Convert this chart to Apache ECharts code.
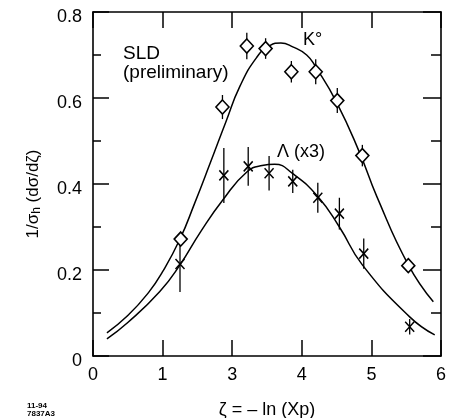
<!DOCTYPE html>
<html>
<head>
<meta charset="utf-8">
<script src="https://cdn.jsdelivr.net/npm/echarts@6/dist/echarts.min.js"></script>
<style>html,body{margin:0;padding:0;background:#fff}#c{width:466px;height:418px}</style>
</head>
<body>
<div id="c"></div>
<script>
// ---- data ----
var xTickLabels = ['0', '1', '3', '4', '5', '6'];
var yTickValues = [0, 0.2, 0.4, 0.6, 0.8];

var k0X   = [1.26, 1.86, 2.21, 2.48, 2.85, 3.20, 3.51, 3.87, 4.53];
var k0Y   = [0.272, 0.579, 0.721, 0.715, 0.661, 0.661, 0.594, 0.466, 0.210];
var k0Err = [0.012, 0.028, 0.031, 0.024, 0.025, 0.029, 0.029, 0.025, 0.010];

var lamX   = [1.25, 1.88, 2.23, 2.53, 2.87, 3.23, 3.54, 3.89, 4.55];
var lamY   = [0.214, 0.420, 0.441, 0.425, 0.406, 0.368, 0.331, 0.238, 0.068];
var lamErr = [0.065, 0.064, 0.045, 0.040, 0.027, 0.035, 0.037, 0.035, 0.018];

var k0CurveX = [0.20, 0.50, 0.80, 1.00, 1.25, 1.46, 1.68, 1.91, 2.11, 2.35, 2.54, 2.70, 2.87, 3.07, 3.20, 3.50, 3.83, 4.08, 4.53, 4.89];
var k0CurveY = [0.054, 0.094, 0.148, 0.196, 0.272, 0.355, 0.447, 0.545, 0.627, 0.694, 0.722, 0.728, 0.719, 0.700, 0.672, 0.590, 0.473, 0.370, 0.212, 0.126];

var lamCurveX = [0.20, 0.50, 0.96, 1.25, 1.55, 1.87, 2.21, 2.43, 2.61, 2.87, 3.23, 3.54, 3.87, 4.55, 4.91];
var lamCurveY = [0.040, 0.078, 0.150, 0.212, 0.290, 0.364, 0.428, 0.443, 0.446, 0.424, 0.371, 0.300, 0.212, 0.091, 0.049];

function pairs(xs, ys) { return xs.map(function (x, i) { return [x, ys[i]]; }); }
function bars(xs, ys, es) { return xs.map(function (x, i) { return [x, ys[i] - es[i], ys[i] + es[i]]; }); }

var FONT = '"Liberation Sans", Arial, Helvetica, sans-serif';
var chart = echarts.init(document.getElementById('c'), null, { renderer: 'canvas' });

function errRender(params, api) {
  var x = api.value(0), lo = api.value(1), hi = api.value(2);
  var p1 = api.coord([x, lo]), p2 = api.coord([x, hi]);
  return { type: 'line', shape: { x1: p1[0], y1: p1[1], x2: p2[0], y2: p2[1] },
           style: { stroke: '#000', lineWidth: 1.3 } };
}

var axisLineStyle = { color: '#000', width: 1.6 };

var option = {
  animation: false,
  backgroundColor: '#fff',
  grid: { left: 93, right: 25, top: 12, bottom: 62, containLabel: false, outerBoundsMode: 'none' },
  xAxis: [{
    type: 'value', min: 0, max: 5, interval: 1, position: 'bottom',
    axisLine: { show: true, onZero: false, lineStyle: axisLineStyle },
    axisTick: { show: true, inside: true, length: 16, lineStyle: { color: '#000', width: 1.5 } },
    axisLabel: { margin: 10, color: '#000', fontFamily: FONT, fontSize: 18,
                 formatter: function (v) { return xTickLabels[Math.round(v)]; } },
    splitLine: { show: false },
    name: 'ζ = – ln (Xp)', nameLocation: 'middle', nameGap: 45,
    nameTextStyle: { color: '#000', fontFamily: FONT, fontSize: 18 }
  }, {
    type: 'value', min: 0, max: 5, interval: 1, position: 'top',
    axisLine: { show: true, onZero: false, lineStyle: axisLineStyle },
    axisTick: { show: true, inside: true, length: 16, lineStyle: { color: '#000', width: 1.5 } },
    axisLabel: { show: false }, splitLine: { show: false }
  }],
  yAxis: [{
    type: 'value', min: 0, max: 0.8, interval: 0.2, position: 'left',
    axisLine: { show: true, onZero: false, lineStyle: axisLineStyle },
    axisTick: { show: true, inside: true, length: 16, lineStyle: { color: '#000', width: 1.5 } },
    minorTick: { show: true, splitNumber: 2, length: 8, lineStyle: { color: '#000', width: 1.5 } },
    axisLabel: { margin: 11, color: '#000', fontFamily: FONT, fontSize: 18, verticalAlign: 'top', lineHeight: 10,
                 formatter: function (v) { var t = yTickValues.indexOf(Math.round(v * 10) / 10); return t === 0 ? '0' : v.toFixed(1); } },
    splitLine: { show: false },
    name: '1/σ{s|h} (dσ/dζ)', nameLocation: 'middle', nameRotate: 90, nameGap: 50,
    nameTextStyle: { color: '#000', fontFamily: FONT, fontSize: 17, padding: [0, 20, 0, 0],
                     rich: { s: { fontFamily: FONT, fontSize: 12, verticalAlign: 'bottom', padding: [8, 0, 0, 0] } } }
  }, {
    type: 'value', min: 0, max: 0.8, interval: 0.2, position: 'right',
    axisLine: { show: true, onZero: false, lineStyle: axisLineStyle },
    axisTick: { show: true, inside: true, length: 18, lineStyle: { color: '#000', width: 1.5 } },
    minorTick: { show: true, splitNumber: 2, length: 10, lineStyle: { color: '#000', width: 1.5 } },
    axisLabel: { show: false }, splitLine: { show: false }
  }],
  series: [
    { type: 'line', data: pairs(k0CurveX, k0CurveY), smooth: 0.5, showSymbol: false, symbol: 'none',
      lineStyle: { color: '#000', width: 1.5 }, z: 2 },
    { type: 'line', data: pairs(lamCurveX, lamCurveY), smooth: 0.5, showSymbol: false, symbol: 'none',
      lineStyle: { color: '#000', width: 1.5 }, z: 2 },
    { type: 'custom', renderItem: errRender, data: bars(k0X, k0Y, k0Err), encode: { x: 0, y: [1, 2] }, z: 3 },
    { type: 'custom', renderItem: errRender, data: bars(lamX, lamY, lamErr), encode: { x: 0, y: [1, 2] }, z: 3 },
    { type: 'scatter', data: pairs(k0X, k0Y), symbol: 'diamond', symbolSize: [13, 14],
      itemStyle: { color: '#fff', borderColor: '#000', borderWidth: 1.6, opacity: 1 }, z: 4 },
    { type: 'scatter', data: pairs(lamX, lamY), symbol: 'path://M0,0L10,11M10,0L0,11', symbolSize: [9, 10],
      itemStyle: { color: 'none', borderColor: '#000', borderWidth: 1.6, opacity: 1 }, z: 4 }
  ],
  graphic: [
    { type: 'text', left: 123, top: 44, style: { text: 'SLD', font: '19px ' + FONT, fill: '#000' } },
    { type: 'text', left: 123, top: 63, style: { text: '(preliminary)', font: '19px ' + FONT, fill: '#000' } },
    { type: 'text', left: 303, top: 31, style: { text: 'K°', font: '18px ' + FONT, fill: '#000' } },
    { type: 'text', left: 277, top: 143, style: { text: 'Λ (x3)', font: '18px ' + FONT, fill: '#000' } },
    { type: 'text', left: 27, top: 402, style: { text: '11-94', font: 'bold 8px ' + FONT, fill: '#000' } },
    { type: 'text', left: 27, top: 410, style: { text: '7837A3', font: 'bold 8px ' + FONT, fill: '#000' } }
  ]
};
chart.setOption(option);
</script>
</body>
</html>
